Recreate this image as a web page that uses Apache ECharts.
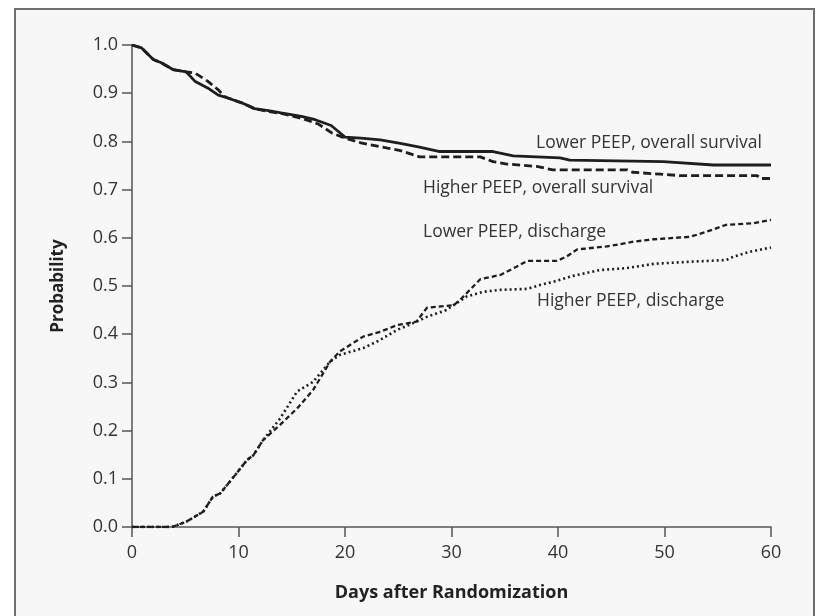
<!DOCTYPE html>
<html>
<head>
<meta charset="utf-8">
<script src="https://cdn.jsdelivr.net/npm/echarts@6/dist/echarts.min.js"></script>
<style>
  html, body { margin: 0; padding: 0; background: #fff; }
  #chart { width: 818px; height: 616px; }
</style>
</head>
<body>
<div id="chart"></div>
<script>
// Kaplan-Meier style curves (day, probability)
const lowerSurvDays = [0, 0.9, 2.0, 2.75, 3.85, 5.1, 5.9, 7.1, 8.1, 9.0, 10.3, 11.5, 12.8, 14.0, 15.9, 17.2, 18.7, 19.35, 20, 21.5, 23.3, 25.2, 27, 28.9, 33.9, 35.8, 40.2, 41.1, 49.9, 54.6, 60];
const lowerSurv = [1.0, 0.994, 0.970, 0.963, 0.949, 0.944, 0.925, 0.911, 0.896, 0.89, 0.880, 0.868, 0.864, 0.859, 0.852, 0.845, 0.833, 0.821, 0.809, 0.807, 0.803, 0.796, 0.788, 0.779, 0.779, 0.770, 0.766, 0.761, 0.758, 0.751, 0.751];

const higherSurvDays = [0, 0.9, 2.0, 2.75, 3.85, 5.1, 5.9, 7.1, 8.1, 8.7, 9.0, 10.3, 11.5, 12.8, 14.0, 15.9, 17.5, 18.8, 20, 21.5, 24, 25.2, 27, 32.7, 33.9, 35.2, 38, 39.5, 46.5, 47, 49.6, 51.5, 58.7, 59, 60];
const higherSurv = [1.0, 0.994, 0.970, 0.963, 0.949, 0.944, 0.942, 0.925, 0.907, 0.893, 0.89, 0.880, 0.868, 0.862, 0.858, 0.848, 0.836, 0.817, 0.807, 0.797, 0.786, 0.781, 0.768, 0.768, 0.758, 0.753, 0.748, 0.741, 0.741, 0.736, 0.732, 0.729, 0.729, 0.723, 0.723];

const lowerDischDays = [0, 3.75, 3.9, 5.1, 6.7, 7.6, 8.3, 9.8, 10.8, 11.4, 12.3, 13.9, 15.5, 17.0, 18.6, 19.5, 21.7, 23.3, 24.9, 26.7, 27.7, 30.2, 30.8, 32.7, 34.6, 36.1, 37.1, 39.9, 40.8, 41.8, 44.6, 47.1, 49, 52.4, 54, 55.8, 58.3, 60];
const lowerDisch = [0, 0, 0.004, 0.011, 0.032, 0.063, 0.07, 0.111, 0.139, 0.149, 0.18, 0.212, 0.246, 0.284, 0.343, 0.364, 0.395, 0.405, 0.419, 0.426, 0.455, 0.46, 0.471, 0.514, 0.523, 0.540, 0.552, 0.552, 0.561, 0.576, 0.582, 0.592, 0.597, 0.602, 0.613, 0.627, 0.630, 0.637];

const higherDischDays = [0, 3.75, 3.9, 5.1, 6.7, 7.6, 8.3, 9.8, 10.8, 11.4, 12.3, 13.9, 15.5, 17.0, 18.6, 19.5, 21.7, 23.3, 24.9, 26.4, 27.7, 29.5, 31.4, 33, 34.6, 37.1, 38.3, 39.6, 41.4, 43.9, 46.4, 49, 52.1, 55.8, 56.5, 58, 60];
const higherDisch = [0, 0, 0.004, 0.011, 0.032, 0.063, 0.07, 0.111, 0.139, 0.149, 0.18, 0.225, 0.281, 0.301, 0.343, 0.357, 0.371, 0.388, 0.409, 0.423, 0.436, 0.45, 0.478, 0.488, 0.492, 0.494, 0.502, 0.509, 0.521, 0.533, 0.537, 0.546, 0.550, 0.554, 0.561, 0.571, 0.580];

const seriesNames = ["Lower PEEP, overall survival", "Higher PEEP, overall survival", "Lower PEEP, discharge", "Higher PEEP, discharge"];
const xTicks = [0, 10, 20, 30, 40, 50, 60];

const font = "'Open Sans', 'Noto Sans', sans-serif";
const ink = "#1e1e1e";
const pair = (xs, ys) => xs.map((x, i) => [x, ys[i]]);

const chart = echarts.init(document.getElementById("chart"));
const lineSeries = (name, data, type, width) => ({
  name, type: "line", data, showSymbol: false, smooth: false, silent: true,
  lineStyle: { color: ink, width, type, cap: "butt" },
});
const label = (i, x, y) => ({ type: "text", x, y, style: { text: seriesNames[i], font: `17.5px ${font}`, fill: "#333", verticalAlign: "middle" } });

chart.setOption({
  animation: false,
  graphic: [
    { type: "rect", left: 14, top: 8, z: -10, shape: { width: 799, height: 620 }, style: { fill: "#f7f7f7", stroke: "#6e6e6e", lineWidth: 2 } },
    label(0, 536, 143),
    label(1, 423, 188),
    label(2, 423, 232),
    label(3, 537, 301),
  ],
  grid: { left: 132, right: 47, top: 45, bottom: 89 },
  xAxis: {
    type: "value", min: 0, max: 60, interval: 10,
    name: "Days after Randomization", nameLocation: "middle", nameGap: 57,
    nameTextStyle: { fontFamily: font, fontSize: 18, fontWeight: "bold", color: "#222" },
    axisLine: { lineStyle: { color: "#555", width: 1.5 } },
    axisTick: { inside: false, length: 10, lineStyle: { color: "#555", width: 1.5 } },
    axisLabel: { fontFamily: font, fontSize: 18, color: "#333", margin: 17, formatter: v => xTicks.includes(v) ? String(v) : "" },
    splitLine: { show: false },
  },
  yAxis: {
    type: "value", min: 0, max: 1, interval: 0.1,
    name: "Probability", nameLocation: "middle", nameGap: 65,
    nameTextStyle: { fontFamily: font, fontSize: 17, fontWeight: "bold", color: "#222" },
    axisLine: { lineStyle: { color: "#555", width: 1.5 } },
    axisTick: { inside: false, length: 10, lineStyle: { color: "#555", width: 1.5 } },
    axisLabel: { fontFamily: font, fontSize: 18, color: "#333", margin: 14, formatter: v => v.toFixed(1) },
    splitLine: { show: false },
  },
  series: [
    lineSeries(seriesNames[0], pair(lowerSurvDays, lowerSurv), "solid", 2.8),
    lineSeries(seriesNames[1], pair(higherSurvDays, higherSurv), [8, 4], 2.8),
    lineSeries(seriesNames[2], pair(lowerDischDays, lowerDisch), [5, 3], 2.3),
    lineSeries(seriesNames[3], pair(higherDischDays, higherDisch), [2, 3], 2.6),
  ],
});
</script>
</body>
</html>
